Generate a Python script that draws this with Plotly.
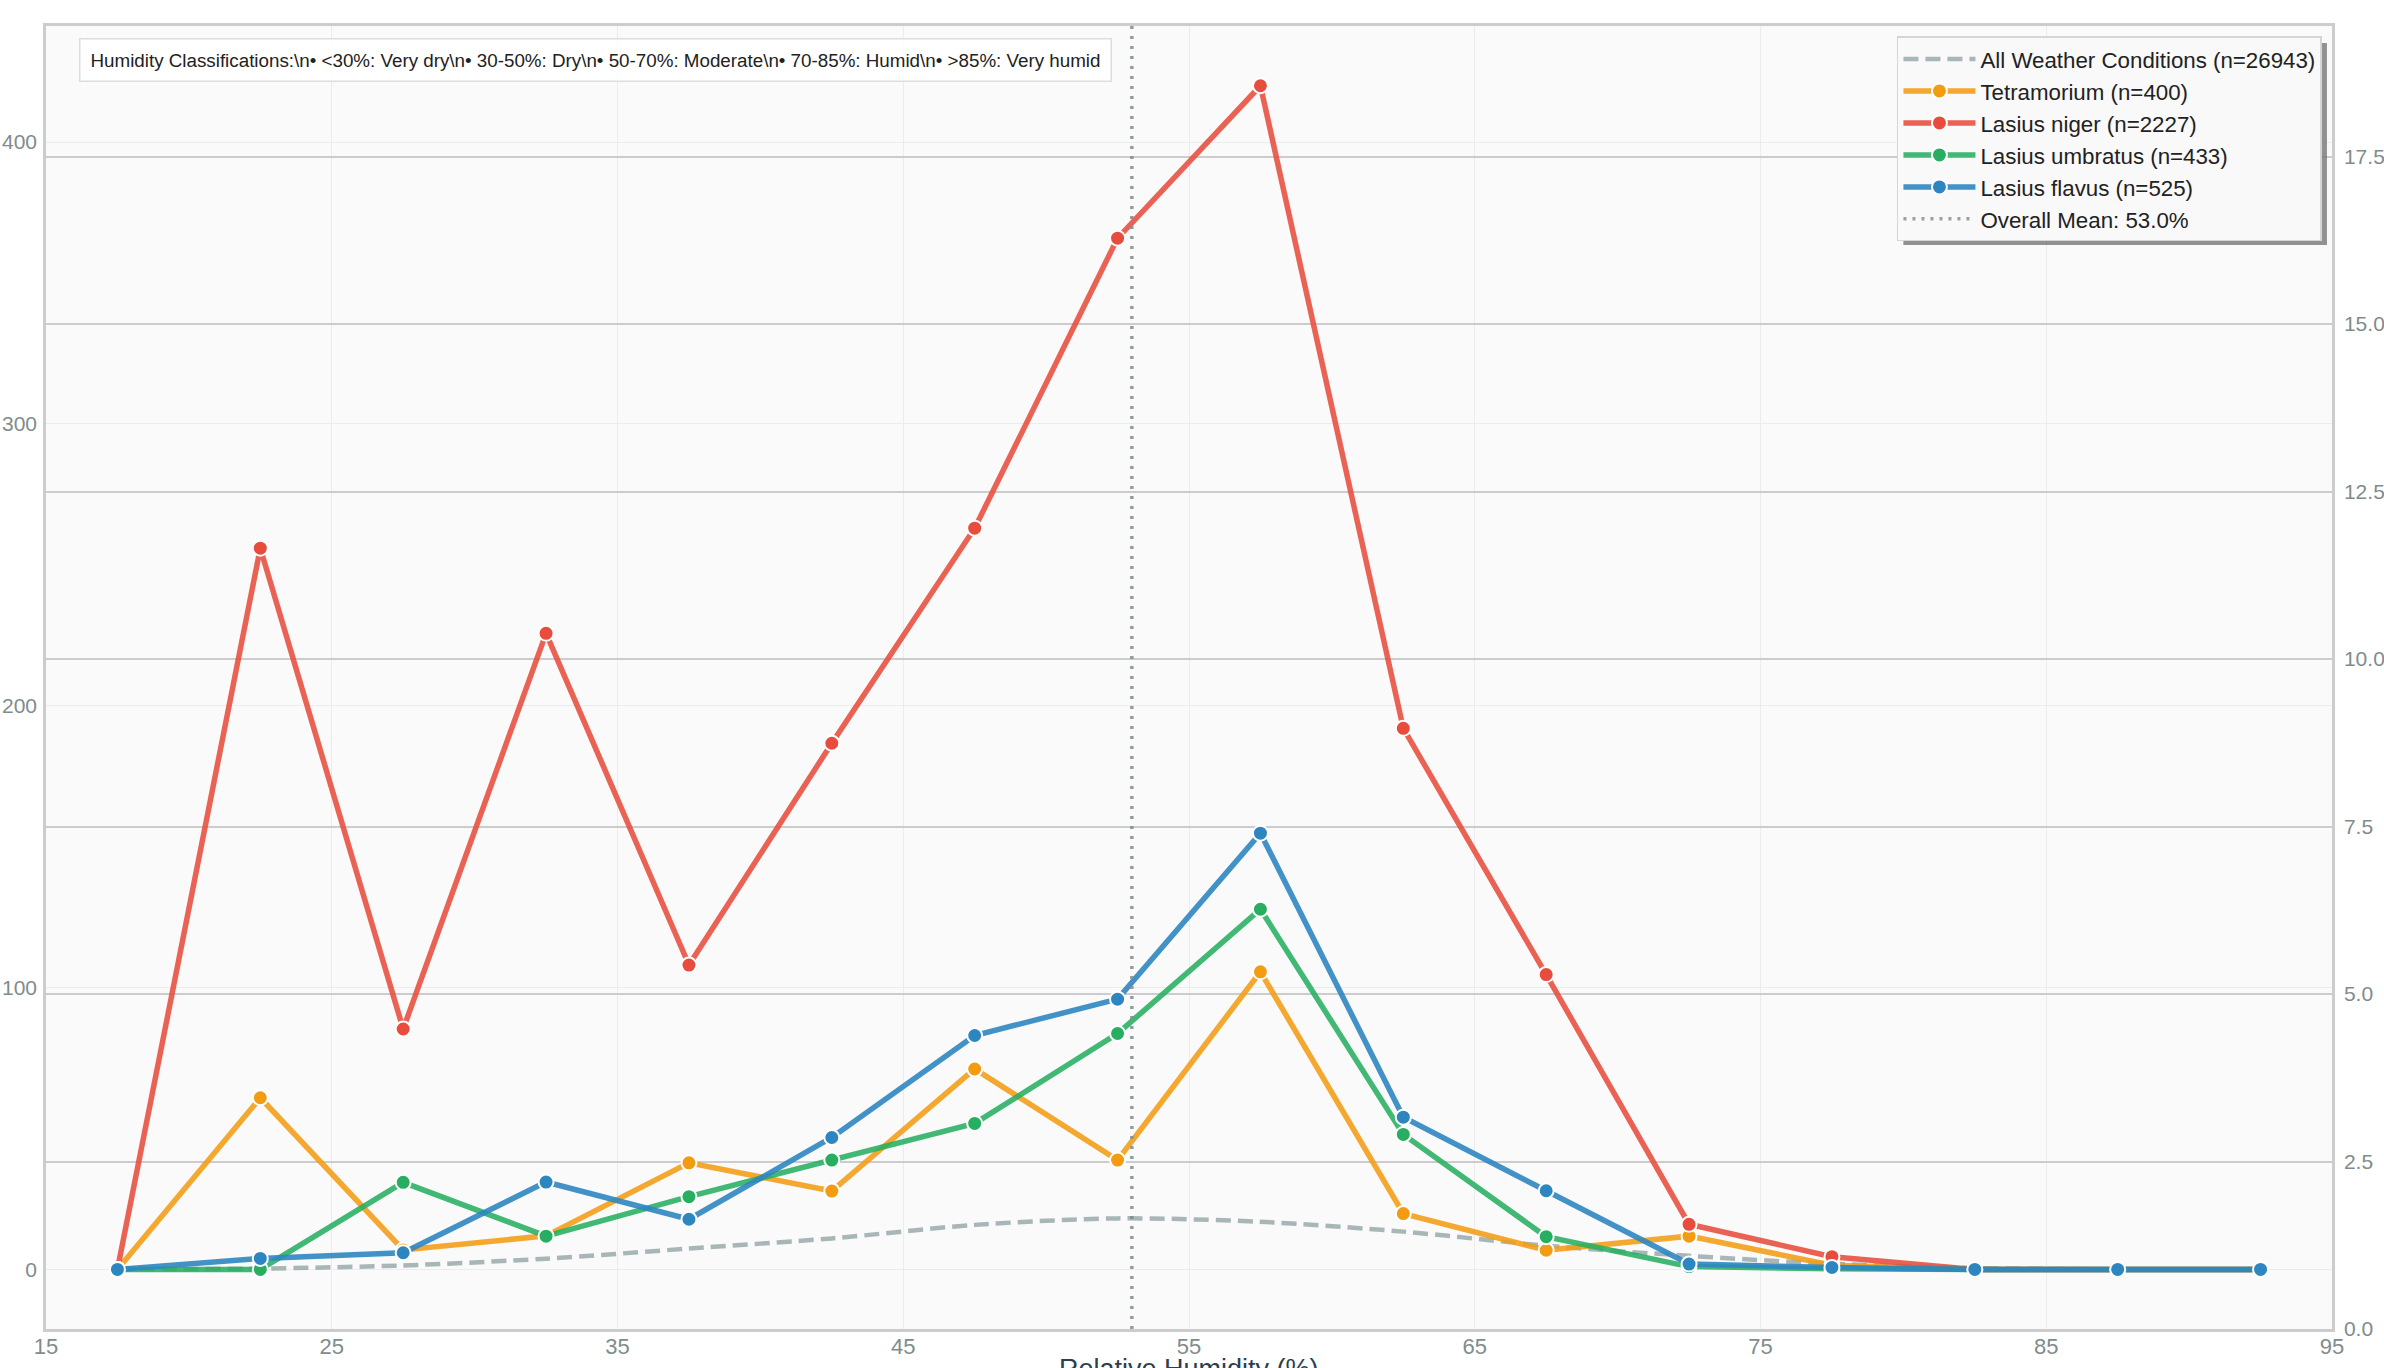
import plotly.graph_objects as go

# ---- data ----
humidity_bins = [17.5, 22.5, 27.5, 32.5, 37.5, 42.5, 47.5, 52.5, 57.5, 62.5, 67.5, 72.5, 77.5, 82.5, 87.5, 92.5]
all_weather = [0.1, 0.3, 1.4, 3.8, 7.4, 11.0, 15.8, 18.1, 16.9, 13.4, 8.4, 4.8, 2.0, 0.5, 0.0, 0.0]
tetramorium = [0, 60.9, 6.9, 11.9, 37.8, 27.8, 71.1, 38.8, 105.6, 19.8, 6.8, 11.8, 1.5, 0, 0, 0]
lasius_niger = [0, 255.9, 85.3, 225.7, 108.0, 186.7, 263.0, 365.9, 420.0, 192.0, 104.6, 16.0, 4.5, 0, 0, 0]
lasius_umbratus = [0, 0, 30.9, 11.8, 25.8, 38.8, 51.8, 83.7, 127.8, 47.9, 11.6, 1.0, 0.2, 0, 0, 0]
lasius_flavus = [0, 3.9, 5.9, 31.0, 17.8, 46.8, 83.0, 95.9, 154.8, 54.0, 27.9, 1.9, 0.7, 0, 0, 0]
overall_mean = 53.0

series_names = ["Tetramorium (n=400)", "Lasius niger (n=2227)", "Lasius umbratus (n=433)", "Lasius flavus (n=525)"]
all_weather_name = "All Weather Conditions (n=26943)"
mean_name = "Overall Mean: 53.0%"
annotation_text = ("Humidity Classifications:\\n• &lt;30%: Very dry\\n• 30-50%: Dry\\n• 50-70%: Moderate"
                   "\\n• 70-85%: Humid\\n• &gt;85%: Very humid")
x_title = "Relative Humidity (%)"

x_ticks = [15, 25, 35, 45, 55, 65, 75, 85, 95]
left_ticks = [0, 100, 200, 300, 400]
right_ticks = [0.0, 2.5, 5.0, 7.5, 10.0, 12.5, 15.0, 17.5]

colors = ["#f39c12", "#e74c3c", "#27ae60", "#2e86c1"]
line_colors = ["rgba(243,156,18,0.88)", "rgba(231,76,60,0.88)", "rgba(39,174,96,0.88)", "rgba(46,134,193,0.9)"]

FONT = "Liberation Sans, Arial, sans-serif"

fig = go.Figure()

fig.add_trace(go.Scatter(
    x=humidity_bins, y=all_weather, mode="lines", name=all_weather_name,
    line=dict(color="rgba(149,165,166,0.8)", width=4.5, dash="15px,7px", shape="spline", smoothing=0.8),
))

for name, vals, c, lc in zip(series_names, [tetramorium, lasius_niger, lasius_umbratus, lasius_flavus], colors, line_colors):
    fig.add_trace(go.Scatter(
        x=humidity_bins, y=vals, mode="lines+markers", name=name,
        line=dict(color=lc, width=5.5),
        marker=dict(color=c, size=15, line=dict(color="white", width=2)),
    ))

# legend entry for mean line
fig.add_trace(go.Scatter(
    x=[None], y=[None], mode="lines", name=mean_name,
    line=dict(color="rgba(127,140,141,0.8)", width=3.5, dash="3px,6px"),
))

# dummy trace to activate right axis
fig.add_trace(go.Scatter(x=[None], y=[None], yaxis="y2", showlegend=False, hoverinfo="skip"))

fig.add_shape(type="line", xref="x", yref="paper", x0=overall_mean, x1=overall_mean, y0=0, y1=1,
              line=dict(color="rgba(127,140,141,0.85)", width=3.5, dash="3px,7px"), layer="above")

# legend shadow
fig.add_shape(type="rect", xref="paper", yref="paper", x0=0.8125, x1=0.9978, y0=0.832, y1=0.9869,
              fillcolor="rgba(110,110,110,0.75)", line=dict(width=0), layer="above")

fig.add_annotation(
    text=annotation_text, xref="paper", yref="paper", x=0.0144, y=0.991,
    xanchor="left", yanchor="top", showarrow=False, align="left",
    font=dict(family=FONT, size=18.8, color="#222222"),
    bgcolor="rgba(255,255,255,0.85)", bordercolor="#dddddd", borderwidth=1.5, borderpad=10,
)

# x-axis title (partly cut off at the page bottom, as in the reference)
fig.add_annotation(
    text=x_title, xref="paper", yref="paper", x=0.5, y=-0.0177,
    xanchor="center", yanchor="top", showarrow=False,
    font=dict(family=FONT, size=27, color="#2c3e50"),
)

axis_font = dict(family=FONT, size=21, color="#7f8c8d")

fig.update_layout(
    width=2384, height=1368,
    margin=dict(l=46, r=52, t=26, b=39, autoexpand=False),
    paper_bgcolor="white", plot_bgcolor="#fafafa",
    font=dict(family=FONT),
    showlegend=True,
    legend=dict(
        x=0.9956, y=0.992, xanchor="right", yanchor="top",
        bgcolor="#f9f9f9", bordercolor="#d5d5d5", borderwidth=1.5,
        font=dict(size=22.3, color="#222222"), itemwidth=72, tracegroupgap=0,
    ),
    xaxis=dict(
        range=[15, 95], tickvals=x_ticks, ticktext=[str(t) for t in x_ticks],
        showgrid=True, gridcolor="#ececec", gridwidth=1, zeroline=False,
        showline=True, linecolor="#cccccc", linewidth=2.5, mirror=True,
        ticks="", ticklabelstandoff=-4, tickfont=dict(family=FONT, size=22, color="#7f8c8d"),
        automargin=False,
    ),
    yaxis=dict(
        range=[-21.15, 441.2], tickvals=left_ticks, ticktext=[str(t) for t in left_ticks],
        showgrid=True, gridcolor="#ececec", gridwidth=1, zeroline=False,
        showline=True, linecolor="#cccccc", linewidth=2.5,
        ticks="outside", ticklen=2, tickcolor="rgba(0,0,0,0)", tickfont=axis_font,
        automargin=False,
    ),
    yaxis2=dict(
        range=[0, 19.45], tickvals=right_ticks, ticktext=[f"{t:.1f}" for t in right_ticks],
        overlaying="y", side="right",
        showgrid=True, gridcolor="#cccccc", gridwidth=1.5, zeroline=False,
        showline=True, linecolor="#cccccc", linewidth=2.5,
        ticks="outside", ticklen=5, tickcolor="rgba(0,0,0,0)", tickfont=axis_font,
        automargin=False,
    ),
)

fig.write_html("out.html")
